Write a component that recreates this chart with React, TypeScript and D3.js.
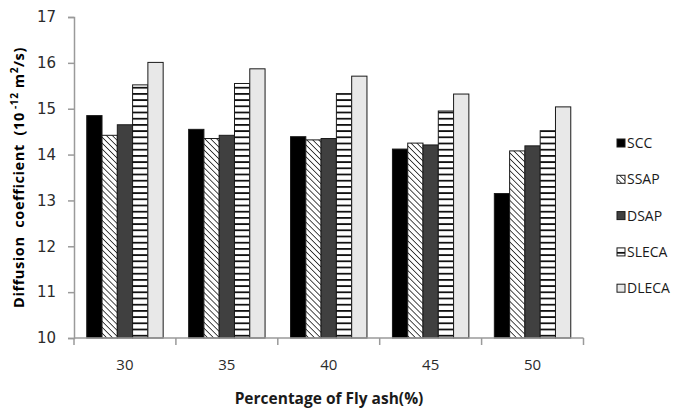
import React, { useRef, useEffect } from "react";
import * as d3 from "d3";

const categories = ["30", "35", "40", "45", "50"];
const seriesNames = ["SCC", "SSAP", "DSAP", "SLECA", "DLECA"];
const scc = [14.85, 14.55, 14.39, 14.12, 13.15];
const ssap = [14.42, 14.35, 14.32, 14.25, 14.08];
const dsap = [14.65, 14.42, 14.35, 14.21, 14.19];
const sleca = [15.52, 15.55, 15.33, 14.95, 14.52];
const dleca = [16.01, 15.87, 15.71, 15.32, 15.04];
const yTicks = [10, 11, 12, 13, 14, 15, 16, 17];

const App = () => {
  const svgRef = useRef<SVGSVGElement>(null);

  useEffect(() => {
    const svg = d3.select(svgRef.current);
    svg.selectAll("*").remove();

    const width = 686;
    const height = 410;
    const margin = { top: 17, right: 102.5, bottom: 72, left: 74 };

    svg.attr("width", width).attr("height", height);

    const values = [scc, ssap, dsap, sleca, dleca];
    const fills = ["#000000", "url(#diag)", "#404040", "url(#horiz)", "#e8e8e8"];

    const defs = svg.append("defs");
    const diag = defs
      .append("pattern")
      .attr("id", "diag")
      .attr("patternUnits", "userSpaceOnUse")
      .attr("width", 4.2)
      .attr("height", 4.2)
      .attr("patternTransform", "rotate(-45)");
    diag.append("rect").attr("width", 4.2).attr("height", 4.2).attr("fill", "#fff");
    diag
      .append("line")
      .attr("x1", 0)
      .attr("y1", 0)
      .attr("x2", 0)
      .attr("y2", 4.2)
      .attr("stroke", "#111")
      .attr("stroke-width", 1.5);

    const horiz = defs
      .append("pattern")
      .attr("id", "horiz")
      .attr("patternUnits", "userSpaceOnUse")
      .attr("width", 8)
      .attr("height", 6.2);
    horiz.append("rect").attr("width", 8).attr("height", 6.2).attr("fill", "#fff");
    horiz
      .append("rect")
      .attr("y", 0)
      .attr("width", 8)
      .attr("height", 1.8)
      .attr("fill", "#111");

    const x = d3
      .scaleBand()
      .domain(categories)
      .range([margin.left, width - margin.right])
      .padding(0);

    const inner = d3
      .scaleBand()
      .domain(seriesNames)
      .range([x.bandwidth() * 0.125, x.bandwidth() * 0.875])
      .padding(0);

    const y = d3
      .scaleLinear()
      .domain([10, 17])
      .range([height - margin.bottom, margin.top]);

    // Bars
    seriesNames.forEach((name, si) => {
      svg
        .append("g")
        .selectAll("rect")
        .data(values[si])
        .join("rect")
        .attr("x", (d, i) => x(categories[i])! + inner(name)!)
        .attr("y", d => y(d))
        .attr("width", inner.bandwidth())
        .attr("height", d => y(10) - y(d))
        .attr("fill", fills[si])
        .attr("stroke", "#1a1a1a")
        .attr("stroke-width", 1);
    });

    const axisColor = "#9a9a9a";

    // Y axis
    const yAxis = svg
      .append("g")
      .attr("transform", `translate(${margin.left},0)`)
      .call(d3.axisLeft(y).tickValues(yTicks).tickSize(6).tickPadding(12).tickFormat(d3.format("d")));
    yAxis.select(".domain").attr("stroke", axisColor).attr("stroke-width", 1.5);
    yAxis.selectAll(".tick line").attr("stroke", axisColor).attr("stroke-width", 1.5);
    yAxis
      .selectAll(".tick text")
      .attr("fill", "#2b2b2b")
      .style("font-family", "DejaVu Sans, Verdana, sans-serif")
      .style("font-size", "15px");

    // X axis
    const xAxis = svg.append("g").attr("transform", `translate(0,${y(10)})`);
    xAxis
      .append("line")
      .attr("x1", margin.left)
      .attr("x2", width - margin.right)
      .attr("stroke", axisColor)
      .attr("stroke-width", 1.5);
    const edges = categories.map(c => x(c)!).concat([x(categories[categories.length - 1])! + x.bandwidth()]);
    xAxis
      .selectAll("line.tick")
      .data(edges)
      .join("line")
      .attr("class", "tick")
      .attr("x1", d => d)
      .attr("x2", d => d)
      .attr("y1", 0)
      .attr("y2", 7)
      .attr("stroke", axisColor)
      .attr("stroke-width", 1.5);
    xAxis
      .selectAll("text")
      .data(categories)
      .join("text")
      .attr("x", d => x(d)! + x.bandwidth() / 2)
      .attr("y", 32)
      .attr("text-anchor", "middle")
      .attr("fill", "#2b2b2b")
      .style("font-family", "Open Sans, sans-serif")
      .style("font-size", "15px")
      .text(d => d);

    // X title
    svg
      .append("text")
      .attr("x", 329)
      .attr("y", 404)
      .attr("text-anchor", "middle")
      .attr("fill", "#1a1a1a")
      .style("font-family", "Open Sans, sans-serif")
      .style("font-size", "15.5px")
      .style("font-weight", "bold")
      .text("Percentage of Fly ash(%)");

    // Y title
    const yTitle = svg
      .append("text")
      .attr("transform", `translate(24,${(y(10) + y(17)) / 2}) rotate(-90)`)
      .attr("text-anchor", "middle")
      .attr("fill", "#000")
      .attr("xml:space", "preserve")
      .style("white-space", "pre")
      .style("font-family", "Open Sans, sans-serif")
      .style("font-size", "14.5px")
      .style("font-weight", "bold")
      .style("letter-spacing", "0.6px");
    yTitle.append("tspan").text("Diffusion  coefficient  (10");
    yTitle.append("tspan").attr("dy", -6).style("font-size", "10px").text(" -12");
    yTitle.append("tspan").attr("dy", 6).text(" m");
    yTitle.append("tspan").attr("dy", -6).style("font-size", "10px").text("2");
    yTitle.append("tspan").attr("dy", 6).text("/s)");

    // Legend
    const legend = svg
      .append("g")
      .selectAll("g")
      .data(seriesNames)
      .join("g")
      .attr("transform", (d, i) => `translate(617,${143 + i * 36.3})`);
    legend
      .append("rect")
      .attr("x", 0)
      .attr("y", -4)
      .attr("width", 8)
      .attr("height", 8)
      .attr("fill", (d, i) => fills[i])
      .attr("stroke", "#1a1a1a")
      .attr("stroke-width", 1);
    legend
      .append("text")
      .attr("x", 10)
      .attr("y", 5)
      .attr("fill", "#1a1a1a")
      .style("font-family", "Open Sans, sans-serif")
      .style("font-size", "14px")
      .text(d => d);
  }, []);

  return (
    <div style={{ position: "absolute", left: 0, top: 0 }}>
      <svg ref={svgRef} />
    </div>
  );
};

export default App;
